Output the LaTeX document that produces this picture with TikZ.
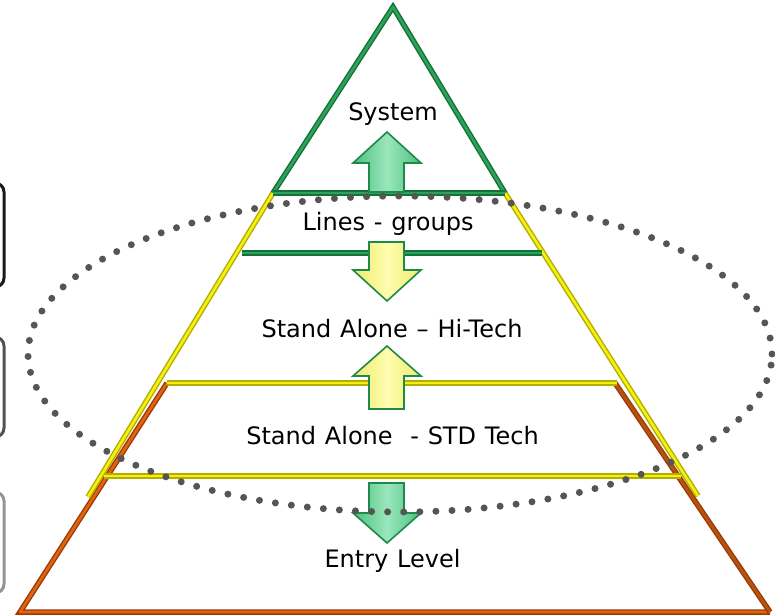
\documentclass[tikz,border=0pt]{standalone}
\usepackage{fontspec}
\setmainfont{DejaVu Sans}
\newcommand{\mylblfont}{\fontsize{24}{28}\selectfont\spaceskip=8.8pt plus 0pt minus 0pt\relax}
\definecolor{gDark}{HTML}{12733A}
\definecolor{gLight}{HTML}{2FA158}
\definecolor{yDark}{HTML}{B3AE00}
\definecolor{yLight}{HTML}{F4F014}
\definecolor{oDark}{HTML}{9A3C08}
\definecolor{oLight}{HTML}{E3640F}
\definecolor{bLight}{HTML}{B9520F}
\definecolor{dotgray}{HTML}{555555}
\definecolor{agOut}{HTML}{1E8A4A}
\definecolor{agSide}{HTML}{4CC080}
\definecolor{agMid}{HTML}{9AE6BC}
\definecolor{ayMid}{HTML}{FFFDB0}
\definecolor{aySide}{HTML}{F0EA6A}
\tikzset{
  gline/.style={line width=2.6pt, draw=gLight, line join=round, preaction={draw=gDark, line width=5.5pt}},
  yline/.style={line width=2.6pt, draw=yLight, line join=round, preaction={draw=yDark, line width=5.5pt}},
  oline/.style={line width=2.6pt, draw=oLight, line join=round, preaction={draw=oDark, line width=5.5pt}},
  bline/.style={line width=2.6pt, draw=bLight, line join=round, preaction={draw=oDark, line width=5.5pt}},
  garrow/.style={draw=agOut, line width=1.6pt, line join=miter, left color=agSide, right color=agSide, middle color=agMid},
  yarrow/.style={draw=agOut, line width=1.6pt, line join=miter, left color=aySide, right color=aySide, middle color=ayMid},
  dots/.style={draw=dotgray, line width=7pt, line cap=round, dash pattern=on 0pt off 16.1pt},
  sidebox/.style={rounded corners=9pt, line width=3pt},
  lbl/.style={anchor=base, inner sep=0pt, font=\mylblfont}
}
\begin{document}
\begin{tikzpicture}[x=1pt, y=-1pt]
\useasboundingbox (0,0) rectangle (775,615);
% side boxes (cut at left edge)
\draw[sidebox, draw=black!90] (-40,183) rectangle (4,287);
\draw[sidebox, draw=black!68] (-40,337) rectangle (4,437);
\draw[sidebox, draw=black!42] (-40,492) rectangle (4,593);
% orange trapezoid
\draw[oline] (167,383) -- (20,612) -- (770,612);
\draw[bline] (615,383) -- (770,612);
% yellow trapezoid
\draw[yline] (273,193) -- (88,497);
\draw[yline] (505,193) -- (698,496);
\draw[yline] (167,383) -- (617,383);
\draw[yline] (104,476) -- (681,476);
% green triangle
\draw[gline] (273,193) -- (393,7) -- (505,193);
\draw[gline] (273,193) -- (505,193);
\draw[gline] (242,253) -- (542,253);
% arrows
\path[garrow] (387,132) -- (421,163) -- (404,163) -- (404,192) -- (369,192) -- (369,163) -- (353,163) -- cycle;
\path[yarrow] (369,242) -- (404,242) -- (404,270) -- (421,270) -- (387,301) -- (353,270) -- (369,270) -- cycle;
\path[yarrow] (387,346) -- (421,376) -- (404,376) -- (404,409) -- (369,409) -- (369,376) -- (353,376) -- cycle;
\path[garrow] (369,483) -- (404,483) -- (404,513) -- (421,513) -- (387,543) -- (353,513) -- (369,513) -- cycle;
% dotted ellipse
\draw[dots] (400,354) ellipse [x radius=372pt, y radius=158pt];
% labels
\node[lbl] (sys) at (393,121) {System};
\node[lbl] (lines) at (388,230) {Lines - groups};
\node[lbl] (hitech) at (392,337) {Stand Alone – Hi-Tech};
\node[lbl] (std) at (392.5,444) {Stand Alone\ \ - STD Tech};
\node[lbl] (entry) at (392.5,567) {Entry Level};
\end{tikzpicture}
\end{document}
